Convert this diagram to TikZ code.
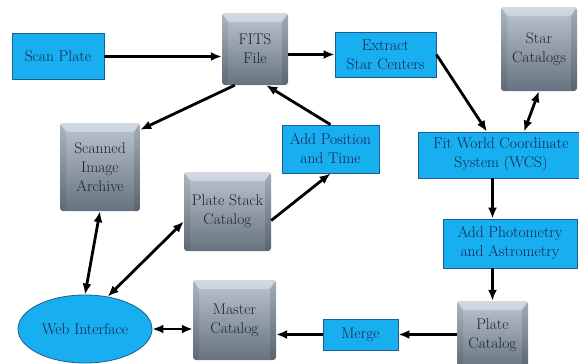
\documentclass[tikz,border=0pt]{standalone}
\usetikzlibrary{shapes.geometric,arrows.meta}
\definecolor{boxblue}{HTML}{17AFEF}
\definecolor{boxedge}{HTML}{1C5F8E}
\definecolor{txtblue}{HTML}{16264F}
\definecolor{cubetop}{HTML}{BCC6D1}
\definecolor{cubebot}{HTML}{66727F}
\definecolor{cubetxt}{HTML}{1A2238}
\tikzset{
  proc/.style={rectangle,draw=boxedge,line width=0.8pt,fill=boxblue,text=txtblue,
    align=center,inner sep=1pt,font=\fontsize{15.5}{19}\selectfont},
  cube/.style={rectangle,rounded corners=3pt,top color=cubetop,bottom color=cubebot,
    text=cubetxt,align=center,inner sep=1pt,font=\fontsize{15.5}{19}\selectfont,
    path picture={
      \fill[white,opacity=0.35] (path picture bounding box.north west) -- (path picture bounding box.north east)
        -- ([xshift=-6pt,yshift=-9pt]path picture bounding box.north east)
        -- ([xshift=6pt,yshift=-9pt]path picture bounding box.north west) -- cycle;
      \fill[black,opacity=0.12] (path picture bounding box.north east) -- ([xshift=-6pt,yshift=-9pt]path picture bounding box.north east)
        -- ([xshift=-6pt]path picture bounding box.south east) -- (path picture bounding box.south east) -- cycle;
      \fill[black,opacity=0.08] (path picture bounding box.north west) -- ([xshift=6pt,yshift=-9pt]path picture bounding box.north west)
        -- ([xshift=6pt]path picture bounding box.south west) -- (path picture bounding box.south west) -- cycle;
    }},
  web/.style={ellipse,draw=boxedge,line width=0.8pt,fill=boxblue,text=txtblue,
    inner sep=0pt,font=\fontsize{15.5}{19}\selectfont},
  flow/.style={line width=2.8pt,-{Latex[length=11pt,width=9pt]}},
  both/.style={line width=2.8pt,{Latex[length=11pt,width=9pt]}-{Latex[length=11pt,width=9pt]}}
}
\begin{document}
\begin{tikzpicture}[x=1pt,y=-1pt]
\useasboundingbox (0,0) rectangle (579,364);
\fill[white] (0,0) rectangle (579,364);

\node[proc,minimum width=92pt,minimum height=46pt] (scan) at (58,56.5) {Scan Plate};
\node[cube,minimum width=66pt,minimum height=72pt] (fits) at (255,49) {FITS\\File};
\node[proc,minimum width=101pt,minimum height=45pt] (extract) at (385.5,54.5) {Extract\\Star Centers};
\node[cube,minimum width=76pt,minimum height=84pt] (starcat) at (539,49) {Star\\Catalogs};
\node[cube,minimum width=80pt,minimum height=88pt] (archive) at (100,167) {Scanned\\Image\\Archive};
\node[proc,minimum width=97pt,minimum height=48pt] (addpos) at (330.5,149) {Add Position\\and Time};
\node[proc,minimum width=166pt,minimum height=46pt] (fitwcs) at (501,155) {Fit World Coordinate\\System (WCS)};
\node[cube,minimum width=87pt,minimum height=79pt] (platestack) at (227.5,211.5) {Plate Stack\\Catalog};
\node[proc,minimum width=134pt,minimum height=49pt] (addphot) at (510,243.5) {Add Photometry\\and Astrometry};
\node[cube,minimum width=71pt,minimum height=68pt] (platecat) at (492.5,335) {Plate\\Catalog};
\node[proc,minimum width=75pt,minimum height=31pt] (merge) at (360.5,334.5) {Merge};
\node[cube,minimum width=83pt,minimum height=80pt] (master) at (234.5,320) {Master\\Catalog};
\node[web,minimum width=134pt,minimum height=68pt] (webi) at (85,329) {Web Interface};

\draw[flow] (scan.east) -- (scan -| fits.west);
\draw[flow] (fits.east |- extract) -- (extract.west);
\draw[flow] ([xshift=13pt]fits.south west) -- ([yshift=-7pt]archive.north east);
\draw[flow] (addpos.north) -- ([xshift=-22pt]fits.south east);
\draw[flow] (extract.east) -- ([xshift=-14pt]fitwcs.north);
\draw[both] (starcat.south) -- ([xshift=23pt]fitwcs.north);
\draw[flow] (fitwcs.south -| platecat) -- (addphot.north -| platecat);
\draw[flow] (addphot.south -| platecat) -- (platecat.north);
\draw[flow] (platecat.west |- merge) -- (merge.east);
\draw[flow] (merge.west) -- (merge -| master.east);
\draw[both] (webi.east) -- (webi -| master.west);
\draw[both] (webi.north) -- (archive.south);
\draw[both] (webi.55) -- ([yshift=-10pt]platestack.west);
\draw[flow] ([yshift=-9pt]platestack.east) -- (addpos.south);
\end{tikzpicture}
\end{document}
